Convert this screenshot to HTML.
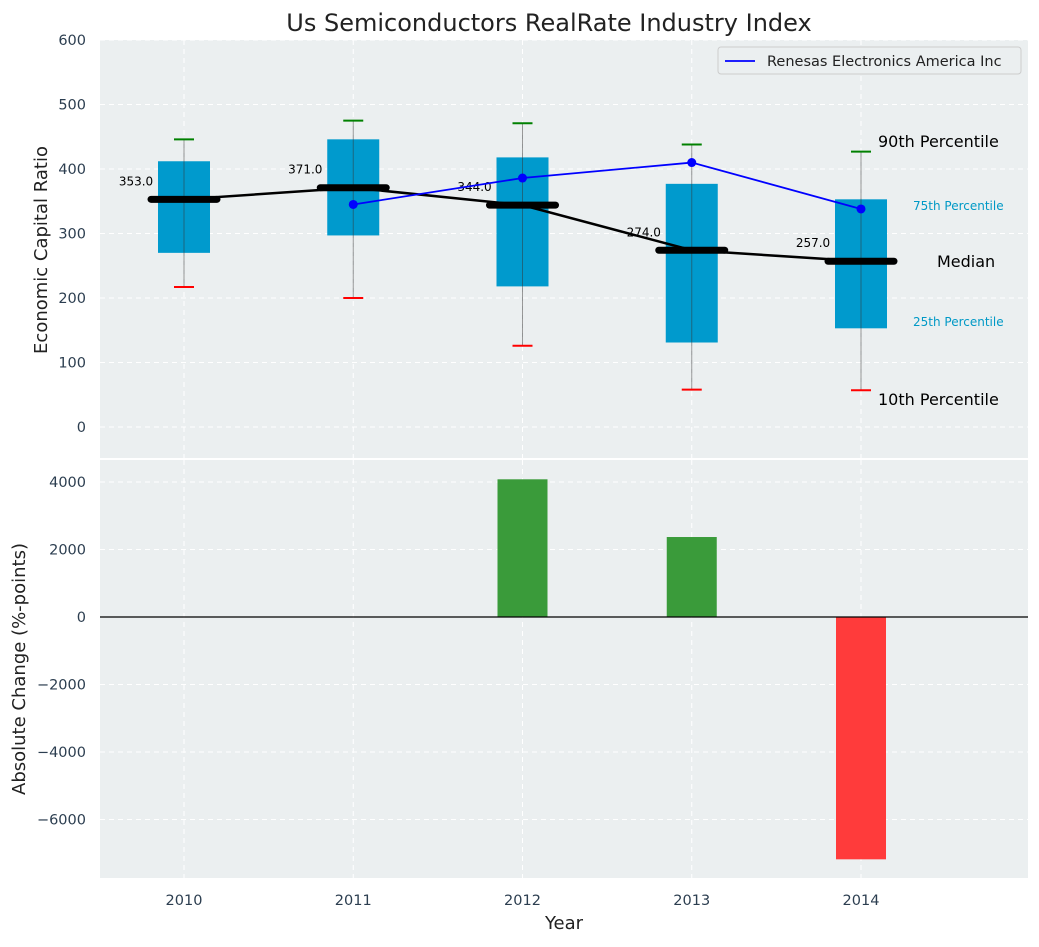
<!DOCTYPE html>
<html><head><meta charset="utf-8"><style>
body{margin:0;background:#fff;font-family:"Liberation Sans","DejaVu Sans",sans-serif}
svg text{font-family:"DejaVu Sans","Liberation Sans",sans-serif}
</style></head><body>
<svg id="c" width="1039" height="942" viewBox="0 0 1039 942" xmlns="http://www.w3.org/2000/svg"></svg>
<script>
const years=["2010","2011","2012","2013","2014"];
const q1=[270,297,218,131,153];
const q3=[412,446,418,377,353];
const med=[353,371,344,274,257];
const p10=[217,200,126,58,57];
const p90=[446,475,471,438,427];
const company=[null,345,386,410,338];
const change=[0,0,4080,2370,-7180];
const topTicks=[0,100,200,300,400,500,600];
const botTicks=[-6000,-4000,-2000,0,2000,4000];
const NS="http://www.w3.org/2000/svg";
const svg=document.getElementById('c');
function el(t,a,p){const e=document.createElementNS(NS,t);for(const k in a)e.setAttribute(k,a[k]);(p||svg).appendChild(e);return e;}
const X0=100,X1=1028;
const xs=i=>184+i*169.25;
const yT=v=>427-v*0.645;
const yB=v=>617-v*135/4000;
let r=el('rect',{x:X0,y:40,width:X1-X0,height:418,fill:'#ebeff0'});

r=el('rect',{x:X0,y:460,width:X1-X0,height:418,fill:'#ebeff0'});

topTicks.forEach(v=>{el('line',{x1:X0,x2:X1,y1:yT(v),y2:yT(v),stroke:'#fff','stroke-dasharray':'5,4','stroke-width':1});
 const t=el('text',{x:86,y:yT(v)+5,'text-anchor':'end','font-size':14.5,fill:'#2c3e50'});t.textContent=v;
 });
botTicks.forEach(v=>{el('line',{x1:X0,x2:X1,y1:yB(v),y2:yB(v),stroke:'#fff','stroke-dasharray':'5,4','stroke-width':1});
 const t=el('text',{x:86,y:yB(v)+5,'text-anchor':'end','font-size':14.5,fill:'#2c3e50'});t.textContent=v<0?'\u2212'+(-v):v;
 });
years.forEach((y,i)=>{el('line',{x1:xs(i),x2:xs(i),y1:40,y2:458,stroke:'#fff','stroke-dasharray':'5,4'});
 el('line',{x1:xs(i),x2:xs(i),y1:460,y2:878,stroke:'#fff','stroke-dasharray':'5,4'});
 const t=el('text',{x:xs(i),y:905,'text-anchor':'middle','font-size':14.5,fill:'#2c3e50'});t.textContent=y;
 });
years.forEach((y,i)=>{const x=xs(i);
 const b=el('rect',{x:x-26,y:yT(q3[i]),width:52,height:yT(q1[i])-yT(q3[i]),fill:'#009acd'});
 
 el('line',{x1:x,x2:x,y1:yT(p10[i]),y2:yT(p90[i]),stroke:'#333','stroke-opacity':0.5,'stroke-width':1});
 el('line',{x1:x-10,x2:x+10,y1:yT(p90[i]),y2:yT(p90[i]),stroke:'green','stroke-width':2});
 el('line',{x1:x-10,x2:x+10,y1:yT(p10[i]),y2:yT(p10[i]),stroke:'red','stroke-width':2});
});
let d=med.map((v,i)=>(i?'L':'M')+xs(i)+','+yT(v)).join('');
let p=el('path',{d:d,stroke:'#000','stroke-width':2.5,fill:'none'});
years.forEach((y,i)=>{const x=xs(i);
 el('line',{x1:x-33,x2:x+33,y1:yT(med[i]),y2:yT(med[i]),stroke:'#000','stroke-width':7,'stroke-linecap':'round'});
 const t=el('text',{x:x-48,y:yT(med[i])-14,'text-anchor':'middle','font-size':12,fill:'#000'});t.textContent=med[i].toFixed(1);
 });
let pts=company.map((v,i)=>v==null?null:[xs(i),yT(v)]).filter(a=>a);
p=el('path',{d:pts.map((a,i)=>(i?'L':'M')+a[0]+','+a[1]).join(''),stroke:'#0000ff','stroke-width':1.8,fill:'none'});

pts.forEach(a=>{const c=el('circle',{cx:a[0],cy:a[1],r:4.5,fill:'#0000ff'});});
[[878,147,'90th Percentile',16,'#000'],[913,210,'75th Percentile',12,'#0099c6'],[937,267,'Median',16,'#000'],[913,326,'25th Percentile',12,'#0099c6'],[878,405,'10th Percentile',16,'#000']].forEach(a=>{
 const t=el('text',{x:a[0],y:a[1],'font-size':a[3],fill:a[4]});t.textContent=a[2];
 });
let g=el('g',{});
el('rect',{x:718,y:47,width:303,height:27,fill:'#ebeff0',stroke:'#ccc',rx:3},g);
el('line',{x1:725,x2:755,y1:61,y2:61,stroke:'#0000ff','stroke-width':1.8},g);
let t=el('text',{x:767,y:66,'font-size':14.5,fill:'#222'},g);t.textContent='Renesas Electronics America Inc';
years.forEach((y,i)=>{const v=change[i];if(!v)return;const x=xs(i);
 const b=el('rect',{x:x-25,y:Math.min(yB(v),yB(0)),width:50,height:Math.abs(yB(v)-yB(0)),fill:v>0?'#3a9b3a':'#ff3b3b'});
 });
el('line',{x1:X0,x2:X1,y1:yB(0),y2:yB(0),stroke:'#000','stroke-width':1.2});
t=el('text',{x:549,y:31,'text-anchor':'middle','font-size':24,fill:'#222'});t.textContent='Us Semiconductors RealRate Industry Index';
t=el('text',{x:564,y:929,'text-anchor':'middle','font-size':18,fill:'#222'});t.textContent='Year';
t=el('text',{x:47,y:250,'text-anchor':'middle','font-size':18,fill:'#222',transform:'rotate(-90 47 250)'});t.textContent='Economic Capital Ratio';
t=el('text',{x:25,y:669,'text-anchor':'middle','font-size':18,fill:'#222',transform:'rotate(-90 25 669)'});t.textContent='Absolute Change (%-points)';
</script>
</body></html>
